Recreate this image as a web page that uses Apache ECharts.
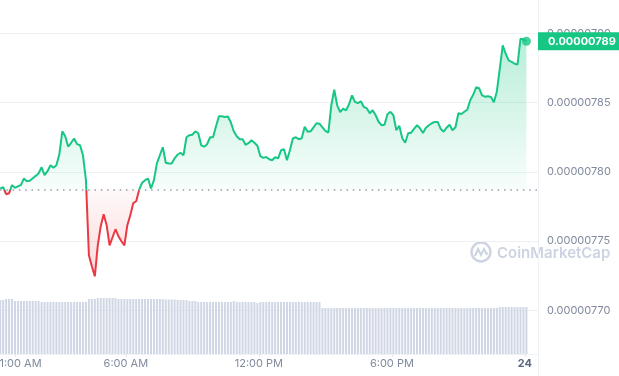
<!DOCTYPE html>
<html>
<head>
<meta charset="utf-8">
<style>
  html, body { margin: 0; padding: 0; background: #fff; }
  #chart { width: 619px; height: 376px; }
</style>
<script src="https://cdn.jsdelivr.net/npm/echarts@6/dist/echarts.min.js"></script>
</head>
<body>
<div id="chart"></div>
<script>
// price in units of 1e-8 (780 -> 0.00000780), one point every 8 minutes from 00:20
var price = [
  778.79, 778.88, 778.38, 778.45, 779.03, 778.84, 778.95, 779.03, 779.51, 779.31,
  779.35, 779.53, 779.70, 779.89, 780.32, 779.75, 780.04, 780.47, 780.29, 780.47,
  781.26, 782.92, 782.56, 781.81, 782.09, 782.40, 781.99, 781.91, 781.19, 779.39,
  773.97, 773.18, 772.45, 774.69, 776.06, 776.93, 776.14, 774.69, 775.27, 775.85,
  775.34, 774.98, 774.69, 776.14, 776.86, 777.73, 777.87, 778.70, 779.21, 779.39,
  779.51, 778.79, 779.39, 780.61, 781.19, 781.77, 780.65, 780.59, 780.59, 780.97,
  781.23, 781.37, 781.19, 782.49, 782.64, 782.67, 782.92, 782.78, 781.91, 781.81,
  781.99, 782.49, 782.49, 783.29, 784.01, 784.01, 783.96, 783.99, 783.57, 782.92,
  782.56, 782.35, 782.35, 781.95, 782.06, 782.27, 782.09, 781.88, 781.12, 781.00,
  781.06, 780.90, 780.83, 781.05, 780.97, 781.55, 781.62, 780.83, 781.55, 782.40,
  782.49, 782.35, 782.42, 783.25, 782.89, 782.92, 783.21, 783.50, 783.47, 783.21,
  782.95, 782.82, 784.80, 785.92, 784.80, 784.30, 784.56, 784.44, 784.87, 785.52,
  785.05, 784.95, 785.09, 784.68, 784.58, 784.22, 784.44, 784.08, 783.61, 783.36,
  783.39, 784.15, 784.33, 784.08, 783.00, 783.32, 782.42, 782.09, 782.78, 782.82,
  783.10, 783.36, 783.14, 782.80, 783.18, 783.36, 783.50, 783.60, 783.60, 783.10,
  782.89, 783.18, 783.39, 783.00, 783.21, 784.22, 784.17, 784.33, 784.48, 785.16,
  785.56, 786.10, 786.03, 785.52, 785.42, 785.45, 785.40, 785.02, 785.78, 787.45,
  789.13, 788.52, 788.04, 787.94, 787.80, 787.74, 789.60, 789.57, 789.42
];
// volume, relative units
var volume = [
  54, 54, 55, 55, 55, 53, 53, 53, 53, 53,
  53, 53, 53, 53, 52, 52, 52, 52, 52, 52,
  52, 52, 52, 52, 52, 52, 52, 52, 52, 52,
  55, 55, 55, 56, 56, 56, 56, 56, 56, 56,
  55, 55, 55, 55, 55, 55, 55, 55, 55, 55,
  55, 55, 55, 55, 55, 55, 54.5, 54.5, 54.5, 54.5,
  54, 54, 54, 54, 53, 53, 53, 52, 52, 52,
  52, 52, 52, 52, 52, 52, 52, 52, 52, 53,
  52, 52, 52, 52, 52, 52, 52, 51, 52, 52,
  52, 52, 52, 52, 52, 52, 52, 52, 52, 52,
  52, 52, 52, 52, 52, 52, 52, 52, 52, 46,
  46, 46, 46, 46, 46, 46, 46, 46, 46, 46,
  46, 46, 46, 46, 46, 46, 46, 46, 46, 46,
  46, 46, 46, 46, 46, 46, 46, 46, 46, 46,
  46, 46, 46, 46, 46, 46, 46, 46, 46, 46,
  46, 46, 46, 46, 46, 46, 46, 46, 46, 46,
  46, 46, 46, 46, 46, 46, 46, 46, 46, 47,
  47, 47, 47, 47, 47, 47, 47, 47, 47
];
var startHour = 20 / 60;
var stepHours = 8 / 60;
var baseline = 778.71; // previous close, dotted line
var xTickHours = [1, 6, 12, 18, 24];
var xTickLabels = ['1:00 AM', '6:00 AM', '12:00 PM', '6:00 PM', '24'];

var green = '#16c784';
var red = '#ea3943';
var labelGray = '#808a9d';
var lineGray = '#eff2f5';

var hours = price.map(function (v, i) { return startHour + i * stepHours; });
var priceData = price.map(function (v, i) { return [hours[i], v]; });
var volumeData = volume.map(function (v, i) { return [hours[i], v]; });
var last = priceData[priceData.length - 1];

var xMin = 0.3234, xMax = 24.59;

var chart = echarts.init(document.getElementById('chart'));

var areaColor = new echarts.graphic.LinearGradient(0, 30, 0, 280, [
  {offset: 0, color: 'rgba(22,199,132,0.32)'},
  {offset: 0.637, color: 'rgba(22,199,132,0.03)'},
  {offset: 0.637, color: 'rgba(234,57,67,0.03)'},
  {offset: 1, color: 'rgba(234,57,67,0.2)'}
], true);

chart.setOption({
  animation: false,
  grid: [
    {left: 0, right: 81, top: -36, bottom: -3.5, outerBoundsMode: 'none'},
    {left: 0, right: 81, top: 294, bottom: 22, outerBoundsMode: 'none'}
  ],
  xAxis: [
    {type: 'value', gridIndex: 0, min: xMin, max: xMax, show: false},
    {
      type: 'value', gridIndex: 1, min: xMin, max: xMax,
      splitLine: {show: false},
      axisLine: {show: true, lineStyle: {color: lineGray}},
      axisTick: {show: true, customValues: xTickHours, length: 3, lineStyle: {color: '#e3e6ec'}},
      axisLabel: {
        customValues: xTickHours,
        margin: 4,
        formatter: function (v) {
          var i = xTickHours.indexOf(v);
          if (i === 0) return '{first|' + xTickLabels[i] + '}';
          if (i === xTickLabels.length - 1) return '{day|' + xTickLabels[i] + '}';
          return '{n|' + xTickLabels[i] + '}';
        },
        rich: {
          n: {color: labelGray, fontSize: 11, fontFamily: 'Inter'},
          first: {color: labelGray, fontSize: 11, fontFamily: 'Inter', padding: [0, 0, 0, 11]},
          day: {color: '#58667e', fontSize: 11, fontFamily: 'Inter', fontWeight: 'bold'}
        }
      }
    }
  ],
  yAxis: [
    {
      type: 'value', gridIndex: 0, position: 'right', min: 765, max: 795, interval: 5,
      axisLine: {show: true, lineStyle: {color: lineGray}},
      axisTick: {show: false},
      splitLine: {lineStyle: {color: lineGray}},
      axisLabel: {
        margin: 9, color: labelGray, fontSize: 11, fontFamily: 'Inter',
        showMinLabel: false, showMaxLabel: false,
        formatter: function (v) { return (v / 1e8).toFixed(8); }
      }
    },
    {type: 'value', gridIndex: 1, min: 0, max: 60, show: false}
  ],
  visualMap: {
    type: 'piecewise', show: false, seriesIndex: 0, dimension: 1,
    pieces: [
      {gt: 700, lte: baseline, color: red},
      {gt: baseline, lte: 900, color: green}
    ]
  },
  graphic: [
    {type: 'circle', shape: {cx: 481, cy: 252, r: 9.5}, style: {fill: 'none', stroke: '#cdd4e1', lineWidth: 2.4}, z: 0},
    {type: 'polyline', shape: {points: [[475, 256], [478, 249], [481, 255], [484, 249], [486.5, 254], [488, 253]]},
      style: {fill: 'none', stroke: '#cdd4e1', lineWidth: 2}, z: 0},
    {type: 'text', x: 497, y: 253, z: 0, style: {text: 'CoinMarketCap', fill: '#cdd4e1', fontSize: 15, fontWeight: 600,
      fontFamily: 'Inter', verticalAlign: 'middle'}}
  ],
  series: [
    {
      type: 'line', xAxisIndex: 0, yAxisIndex: 0, data: priceData,
      showSymbol: false, symbol: 'none', z: 3,
      lineStyle: {width: 2},
      areaStyle: {origin: baseline, color: areaColor, opacity: 1},
      markLine: {
        silent: true, symbol: ['none', 'none'], animation: false,
        data: [
          {yAxis: baseline, label: {show: false},
            lineStyle: {type: [1.5, 4.8], color: '#959cad', width: 1.5}},
          {yAxis: last[1], lineStyle: {color: 'rgba(0,0,0,0)', width: 0},
            label: {show: true, position: 'end', distance: 0,
              formatter: function () { return (last[1] / 1e8).toFixed(8); },
              backgroundColor: green, color: '#fff', fontWeight: 'bold', fontSize: 11,
              fontFamily: 'Inter', padding: [4, 10, 3, 10]}}
        ]
      }
    },
    {
      type: 'scatter', xAxisIndex: 0, yAxisIndex: 0, data: [last], z: 5,
      symbolSize: 9, itemStyle: {color: green}, silent: true
    },
    {
      type: 'bar', xAxisIndex: 1, yAxisIndex: 1, data: volumeData,
      barWidth: 2, itemStyle: {color: '#cfd6e4'}, silent: true
    }
  ]
});
</script>
</body>
</html>
